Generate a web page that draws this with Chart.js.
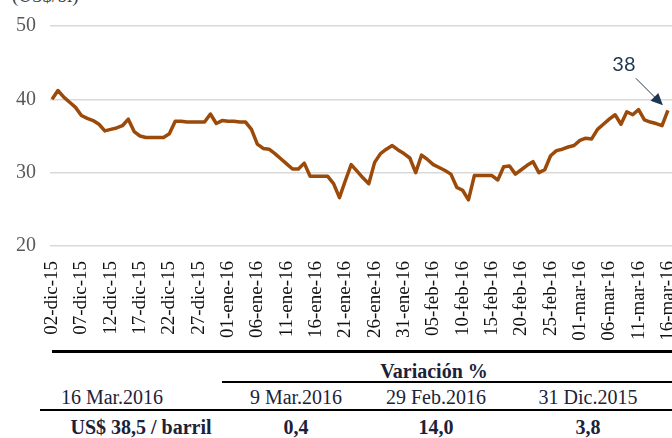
<!DOCTYPE html>
<html>
<head>
<meta charset="utf-8">
<script src="https://cdn.jsdelivr.net/npm/chart.js@4"></script>
<style>
  html, body { margin: 0; padding: 0; background: #fff; }
  body { width: 672px; height: 438px; position: relative; overflow: hidden; font-family: "Liberation Serif", serif; }
  #wrap { position: absolute; left: 0; top: 0; width: 672px; height: 350px; }
  .unit { position: absolute; left: 12px; top: -15px; font-size: 19px; color: #404040; }
  .rule { position: absolute; background: #000; }
  .cell { position: absolute; transform: translateX(-50%); white-space: nowrap; font-size: 20px; line-height: 22px; color: #1c2238; }
  .b { font-weight: bold; }
</style>
</head>
<body>
<div class="unit">(US$/bl)</div>
<div id="wrap"><canvas id="chart"></canvas></div>

<div class="rule" style="left:52px; top:350px; width:620px; height:3px;"></div>
<div class="cell b" style="left:434px; top:360px;">Variación %</div>
<div class="rule" style="left:222px; top:381px; width:450px; height:2px;"></div>
<div class="cell" style="left:112px; top:386px;">16 Mar.2016</div>
<div class="cell" style="left:296px; top:386px;">9 Mar.2016</div>
<div class="cell" style="left:436px; top:386px;">29 Feb.2016</div>
<div class="cell" style="left:588px; top:386px;">31 Dic.2015</div>
<div class="rule" style="left:40px; top:409px; width:632px; height:2px;"></div>
<div class="cell b" style="left:141px; top:416px;">US$ 38,5 / barril</div>
<div class="cell b" style="left:296px; top:416px;">0,4</div>
<div class="cell b" style="left:436px; top:416px;">14,0</div>
<div class="cell b" style="left:588px; top:416px;">3,8</div>

<script>
// daily price, 02-dic-15 .. 16-mar-16
const prices = [
  40.0, 41.2, 40.3, 39.6, 38.9, 37.8, 37.4, 37.1, 36.6, 35.7,
  35.9, 36.1, 36.4, 37.3, 35.6, 35.0, 34.8, 34.8, 34.8, 34.8,
  35.3, 37.0, 37.0, 36.9, 36.9, 36.9, 36.9, 38.0, 36.7, 37.1,
  37.0, 37.0, 36.9, 36.9, 35.9, 33.9, 33.3, 33.2, 32.6, 31.9,
  31.2, 30.5, 30.5, 31.3, 29.5, 29.5, 29.5, 29.5, 28.5, 26.6,
  28.9, 31.1, 30.2, 29.3, 28.5, 31.4, 32.6, 33.2, 33.7, 33.1,
  32.6, 32.0, 30.0, 32.4, 31.8, 31.1, 30.7, 30.3, 29.8, 28.0,
  27.6, 26.3, 29.6, 29.6, 29.6, 29.6, 29.0, 30.8, 30.9, 29.8,
  30.4, 31.0, 31.5, 30.0, 30.4, 32.3, 33.0, 33.2, 33.5, 33.7,
  34.4, 34.7, 34.6, 35.9, 36.6, 37.3, 37.9, 36.6, 38.3, 37.9,
  38.6, 37.2, 36.9, 36.7, 36.4, 38.5
];

// one label every 5 days
const tickLabels = [
  "02-dic-15", "07-dic-15", "12-dic-15", "17-dic-15", "22-dic-15", "27-dic-15",
  "01-ene-16", "06-ene-16", "11-ene-16", "16-ene-16", "21-ene-16", "26-ene-16", "31-ene-16",
  "05-feb-16", "10-feb-16", "15-feb-16", "20-feb-16", "25-feb-16",
  "01-mar-16", "06-mar-16", "11-mar-16", "16-mar-16"
];
const tickStep = 5;

const yTicks = [20, 30, 40, 50];

const lastLabel = "38";

const lineColor = "#9c4a0a";
const navy = "#1f3552";

const arrowLabel = {
  id: "arrowLabel",
  afterDatasetsDraw(chart) {
    const { ctx, scales } = chart;
    const last = prices.length - 1;
    const px = scales.x.getPixelForValue(last);
    const py = scales.y.getPixelForValue(prices[last]);
    const tipX = px - 5, tipY = py - 5;
    const startX = px - 32, startY = py - 32;
    const ang = Math.atan2(tipY - startY, tipX - startX);
    ctx.save();
    ctx.strokeStyle = navy;
    ctx.fillStyle = navy;
    ctx.lineWidth = 1;
    ctx.beginPath();
    ctx.moveTo(startX, startY);
    ctx.lineTo(tipX - 8 * Math.cos(ang), tipY - 8 * Math.sin(ang));
    ctx.stroke();
    ctx.beginPath();
    ctx.moveTo(tipX, tipY);
    ctx.lineTo(tipX - 12 * Math.cos(ang) + 5.5 * Math.sin(ang), tipY - 12 * Math.sin(ang) - 5.5 * Math.cos(ang));
    ctx.lineTo(tipX - 12 * Math.cos(ang) - 5.5 * Math.sin(ang), tipY - 12 * Math.sin(ang) + 5.5 * Math.cos(ang));
    ctx.closePath();
    ctx.fill();
    ctx.font = "20px Lato, sans-serif";
    ctx.textAlign = "center";
    ctx.textBaseline = "middle";
    ctx.fillText(lastLabel, startX - 12, startY - 14);
    ctx.restore();
  },
};

const canvas = document.getElementById("chart");
canvas.style = "width: 672px; height: 350px";

new Chart(canvas.getContext("2d"), {
  type: "line",
  data: {
    datasets: [{
      data: prices.map((v, i) => ({ x: i, y: v })),
      borderColor: lineColor,
      backgroundColor: lineColor,
      borderWidth: 3.5,
      pointRadius: 0,
      tension: 0,
      borderJoinStyle: "round",
    }],
  },
  options: {
    responsive: false,
    animation: false,
    layout: { padding: { top: 18, right: 0, left: 0, bottom: 0 } },
    plugins: {
      legend: { display: false },
      tooltip: { enabled: false },
    },
    scales: {
      x: {
        type: "linear",
        min: -0.35,
        max: 105.7,
        grid: { display: false },
        border: { display: false },
        afterBuildTicks: (scale) => {
          scale.ticks = tickLabels.map((_, i) => ({ value: i * tickStep }));
        },
        afterFit: (scale) => {
          scale.height = 104;
          scale.paddingLeft = 0;
          scale.paddingRight = 0;
        },
        ticks: {
          autoSkip: false,
          minRotation: 90,
          maxRotation: 90,
          padding: 7,
          color: "#111",
          font: { family: "Liberation Serif", size: 19 },
          callback: (value) => tickLabels[Math.round(value / tickStep)],
        },
      },
      y: {
        min: 20,
        max: 50,
        afterBuildTicks: (scale) => {
          scale.ticks = yTicks.map((v) => ({ value: v }));
        },
        afterFit: (scale) => {
          scale.width = 50;
        },
        grid: {
          color: "#d9d9d9",
          lineWidth: 1.5,
          drawTicks: false,
        },
        border: { display: false },
        ticks: {
          padding: 14,
          color: "#595959",
          font: { family: "Liberation Serif", size: 20 },
        },
      },
    },
  },
  plugins: [arrowLabel],
});
</script>
</body>
</html>
